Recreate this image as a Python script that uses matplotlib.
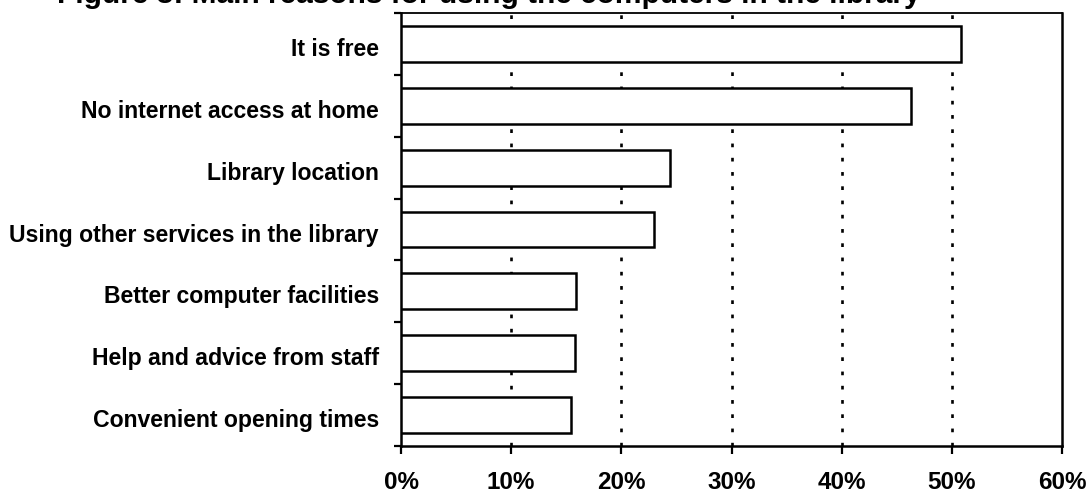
import matplotlib
matplotlib.use("Agg")
import matplotlib.pyplot as plt
import matplotlib.transforms as mtransforms
from matplotlib.ticker import FixedLocator, PercentFormatter

# Survey results: share of respondents citing each reason
reasons = [
    "It is free",
    "No internet access at home",
    "Library location",
    "Using other services in the library",
    "Better computer facilities",
    "Help and advice from staff",
    "Convenient opening times",
]
shares = [50.8, 46.3, 24.4, 23.0, 15.9, 15.8, 15.4]
x_ticks = [0, 10, 20, 30, 40, 50, 60]
title = "Figure 3: Main reasons for using the computers in the library"

plt.rcParams["font.family"] = ["Liberation Sans", "DejaVu Sans"]

fig = plt.figure(figsize=(10.92, 4.94), dpi=100)
ax = fig.add_axes([401 / 1092, 1 - 446 / 494, 661 / 1092, 433 / 494])

pos = list(range(len(reasons)))
ax.barh(pos, shares, height=0.58, color="white", edgecolor="black",
        linewidth=1.8, zorder=3)

ax.set_xlim(0, 60)
ax.set_ylim(len(reasons) - 0.5, -0.5)

# dotted vertical gridlines
for v in x_ticks[1:-1]:
    ax.axvline(v, color="black", linewidth=1.9,
               linestyle=(0, (1.4, 4.0)), zorder=1)

ax.set_xticks(x_ticks)
ax.xaxis.set_major_formatter(PercentFormatter(decimals=0))
ax.tick_params(axis="x", direction="out", length=6, width=1.6, pad=12,
               labelsize=17.5, colors="black")
for lbl in ax.get_xticklabels():
    lbl.set_fontweight("bold")

ax.set_yticks(pos)
ax.set_yticklabels(reasons)
ax.tick_params(axis="y", which="major", length=0, pad=16, labelsize=16.6)
shift = mtransforms.ScaledTranslation(0, -3 / 100, fig.dpi_scale_trans)
for lbl in ax.get_yticklabels():
    lbl.set_fontweight("bold")
    lbl.set_transform(lbl.get_transform() + shift)
ax.yaxis.set_minor_locator(FixedLocator([p + 0.5 for p in range(-1, len(reasons))]))
ax.tick_params(axis="y", which="minor", direction="out", length=5, width=1.6)

for side in ["left", "bottom", "right"]:
    ax.spines[side].set_linewidth(1.8)
ax.spines["top"].set_linewidth(1.3)

fig.text(57 / 1092, 1 - 3 / 494, title, fontsize=21.5, fontweight="bold",
         ha="left", va="baseline")

fig.savefig("out.png", dpi=100)
